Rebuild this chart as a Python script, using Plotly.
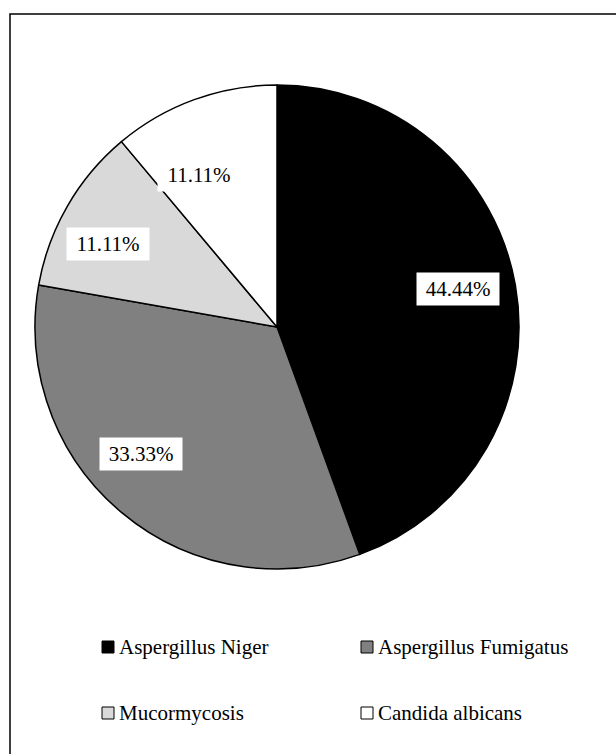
import plotly.graph_objects as go

W, H = 616, 754

# ---- data ----
categories = ["Aspergillus Niger", "Aspergillus Fumigatus", "Mucormycosis", "Candida albicans"]
counts = [4, 3, 1, 1]
colors = ["#000000", "#808080", "#d9d9d9", "#ffffff"]

total = sum(counts)
pct_labels = [f"{100 * c / total:.2f}%" for c in counts]

# ---- styling / positions (pixels) ----
cx, cy, R = 277, 327, 242
label_px = [(458, 289), (141, 454), (108, 244), (199, 175)]
legend_px = [(108, 647), (367, 647), (108, 713), (367, 713)]
FONT = "Liberation Serif"

def px(x):
    return x / W

def py(y):
    return 1 - y / H

fig = go.Figure()
fig.add_trace(go.Pie(
    labels=categories,
    values=counts,
    sort=False,
    direction="clockwise",
    rotation=0,
    marker=dict(colors=colors, line=dict(color="#000000", width=1.5)),
    textinfo="none",
    hoverinfo="label+percent",
    showlegend=False,
    domain=dict(x=[px(cx - R), px(cx + R)], y=[py(cy + R), py(cy - R)]),
))

annotations = []
for (lx, ly), t in zip(label_px, pct_labels):
    annotations.append(dict(
        x=px(lx), y=py(ly), xref="paper", yref="paper",
        text=t, showarrow=False,
        font=dict(family=FONT, size=21, color="#000000"),
        bgcolor="#ffffff", width=80, height=30, borderpad=1,
        xanchor="center", yanchor="middle",
    ))

shapes = [dict(type="rect", xref="paper", yref="paper",
               x0=px(10), x1=px(640), y0=py(14), y1=py(780),
               line=dict(color="#000000", width=1.5), fillcolor="rgba(0,0,0,0)")]

for (mx, my), name, col in zip(legend_px, categories, colors):
    shapes.append(dict(type="rect", xref="paper", yref="paper",
                       x0=px(mx - 6), x1=px(mx + 6), y0=py(my + 6), y1=py(my - 6),
                       line=dict(color="#000000", width=1), fillcolor=col))
    annotations.append(dict(
        x=px(mx + 9), y=py(my), xref="paper", yref="paper",
        text=name, showarrow=False,
        font=dict(family=FONT, size=21, color="#000000"),
        xanchor="left", yanchor="middle",
    ))

fig.update_layout(
    width=W, height=H,
    margin=dict(l=0, r=0, t=0, b=0),
    paper_bgcolor="#ffffff",
    plot_bgcolor="#ffffff",
    annotations=annotations,
    shapes=shapes,
    showlegend=False,
)

fig.write_html("out.html")
